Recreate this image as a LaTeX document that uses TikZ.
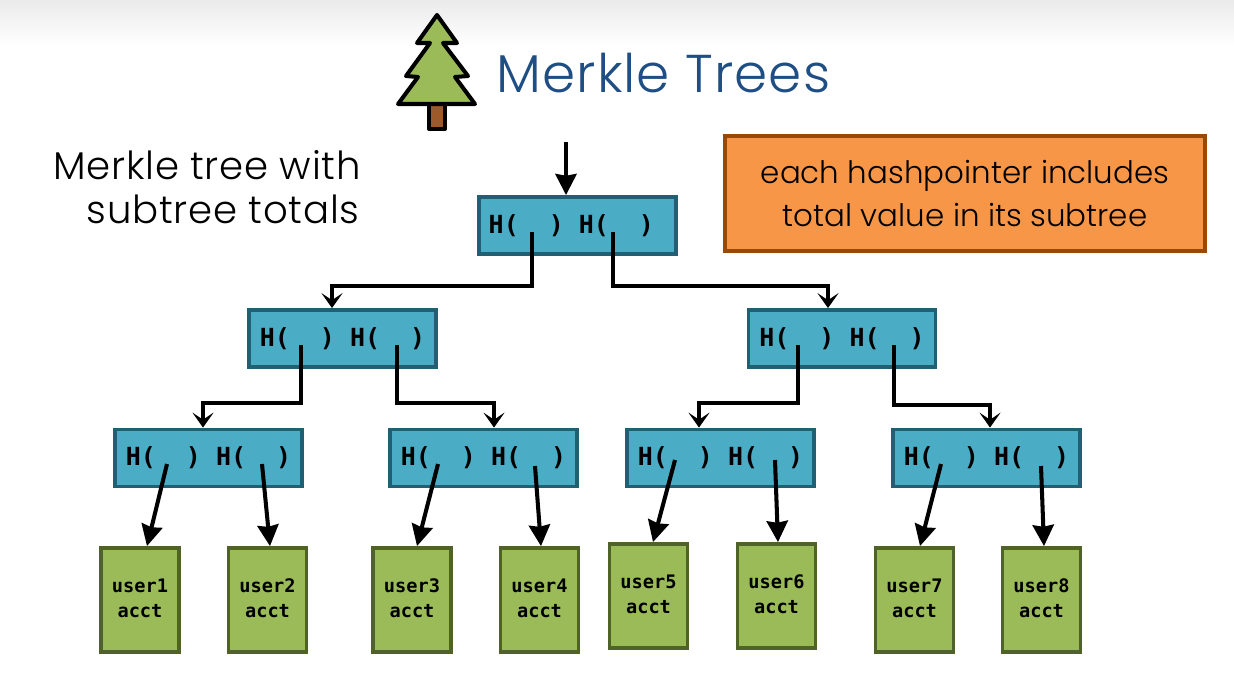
\documentclass[tikz,border=0pt]{standalone}
\usepackage{fontspec}
\setsansfont{Poppins}[UprightFont=* Light]
\setmonofont{DejaVu Sans Mono}
\newfontfamily\handfont{Poppins}[UprightFont=* Light,LetterSpace=2]
\usetikzlibrary{arrows.meta}
\definecolor{hashfill}{HTML}{4BACC6}
\definecolor{hashline}{HTML}{215F72}
\definecolor{acctfill}{HTML}{9BBB59}
\definecolor{acctline}{HTML}{4F6228}
\definecolor{notefill}{HTML}{F79646}
\definecolor{noteline}{HTML}{984807}
\definecolor{titleblue}{HTML}{1F4E84}
\definecolor{trunkfill}{HTML}{9C5A2A}
\newcommand{\hashpair}{H(~~)~H(~~)}
\begin{document}
\begin{tikzpicture}[x=0.02cm,y=-0.02cm,
        base/.style={rectangle,line width=2.2pt,inner sep=0pt,align=center},
        hashbox/.style={base,draw=hashline,fill=hashfill,minimum width=3.74cm,minimum height=1.14cm,
            font=\ttfamily\bfseries\fontsize{14.2}{16}\selectfont},
        acctbox/.style={base,draw=acctline,fill=acctfill,minimum width=1.56cm,minimum height=2.08cm,text depth=2.3pt,
            font=\ttfamily\bfseries\fontsize{10.6}{14.5}\selectfont},
        notebox/.style={base,draw=noteline,fill=notefill,minimum width=9.60cm,minimum height=2.30cm,
            font=\sffamily\fontsize{17.6}{24}\selectfont},
        hashptr/.style={line width=2.3pt,-{Stealth[length=12pt,width=12pt,inset=1pt]}},
        elbowptr/.style={line width=2pt,-{Stealth[length=8.5pt,width=12pt,inset=4pt]}}]
        \useasboundingbox (0,0) rectangle (1234,680);
        \shade[top color=black!8,bottom color=white] (0,0) rectangle (1234,46);
        % Title and tree icon
        \draw[line width=2.3pt,line join=round,fill=trunkfill] (429,104) rectangle (445,129);
        \draw[line width=2.3pt,line join=round,fill=acctfill] (437,15) -- (457,43) -- (443,43) -- (468,76) -- (455,77)
            -- (475,104) -- (398,104) -- (418,77) -- (406,76) -- (430,43) -- (417,43) -- cycle;
        \node[text=titleblue,font=\handfont\fontsize{30.3}{36}\selectfont] (title) at (663.5,73) {Merkle Trees};
        \node[font=\handfont\fontsize{22}{25}\selectfont,align=left] (caption) at (207,187)
            {Merkle tree with\\\hspace*{19pt}subtree totals};
        \node[notebox] (note) at (965,193.5) {each hashpointer includes\\total value in its subtree};
        % Hash nodes
        \node[hashbox,minimum width=3.94cm] (root) at (577.5,225.5) {\hashpair\hspace{7pt}};
        \node[hashbox] (l2a) at (342.5,338.5) {\hashpair};
        \node[hashbox] (l2b) at (842,338.5) {\hashpair};
        \node[hashbox] (l3a) at (208.5,458) {\hashpair};
        \node[hashbox] (l3b) at (483.5,458) {\hashpair};
        \node[hashbox] (l3c) at (720.5,458) {\hashpair};
        \node[hashbox] (l3d) at (986.5,458) {\hashpair};
        % Accounts
        \node[acctbox] (user1) at (140,600) {user1\\acct};
        \node[acctbox] (user2) at (267.5,600) {user2\\acct};
        \node[acctbox] (user3) at (412,600) {user3\\acct};
        \node[acctbox] (user4) at (539.5,600) {user4\\acct};
        \node[acctbox] (user5) at (648.5,596) {user5\\acct};
        \node[acctbox] (user6) at (776.5,596) {user6\\acct};
        \node[acctbox] (user7) at (914.5,600) {user7\\acct};
        \node[acctbox] (user8) at (1041.5,600) {user8\\acct};
        % Hash pointers
        \coordinate (head) at (566,142);
        \draw[hashptr] (head) -- ([shift={(-11.5,0)}]root.north);
        \draw[elbowptr] ([shift={(-45.5,6.5)}]root.center) -- ++(0,54) -| ([shift={(-10.5,0)}]l2a.north);
        \draw[elbowptr] ([shift={(35.5,6.5)}]root.center) -- ++(0,54) -| ([shift={(-14,0)}]l2b.north);
        \draw[elbowptr] ([shift={(-41.5,6.5)}]l2a.center) -- ++(0,58) -| ([shift={(-5.5,0)}]l3a.north);
        \draw[elbowptr] ([shift={(54.5,6.5)}]l2a.center) -- ++(0,58) -| ([shift={(10.5,0)}]l3b.north);
        \draw[elbowptr] ([shift={(-44,6.5)}]l2b.center) -- ++(0,58) -| ([shift={(-21.5,0)}]l3c.north);
        \draw[elbowptr] ([shift={(52,6.5)}]l2b.center) -- ++(0,60) -| ([shift={(3.5,0)}]l3d.north);
        \draw[hashptr] ([shift={(-41.5,6)}]l3a.center) -- ([shift={(7,0)}]user1.north);
        \draw[hashptr] ([shift={(53.5,6)}]l3a.center) -- ([shift={(2.5,0)}]user2.north);
        \draw[hashptr] ([shift={(-45.5,6)}]l3b.center) -- ([shift={(5,0)}]user3.north);
        \draw[hashptr] ([shift={(51.5,8)}]l3b.center) -- ([shift={(1.5,0)}]user4.north);
        \draw[hashptr] ([shift={(-45.5,2)}]l3c.center) -- ([shift={(4.5,0)}]user5.north);
        \draw[hashptr] ([shift={(54.5,2)}]l3c.center) -- ([shift={(1.5,0)}]user6.north);
        \draw[hashptr] ([shift={(-45.5,6)}]l3d.center) -- ([shift={(5.5,0)}]user7.north);
        \draw[hashptr] ([shift={(54.5,8)}]l3d.center) -- ([shift={(2.5,0)}]user8.north);
\end{tikzpicture}
\end{document}
